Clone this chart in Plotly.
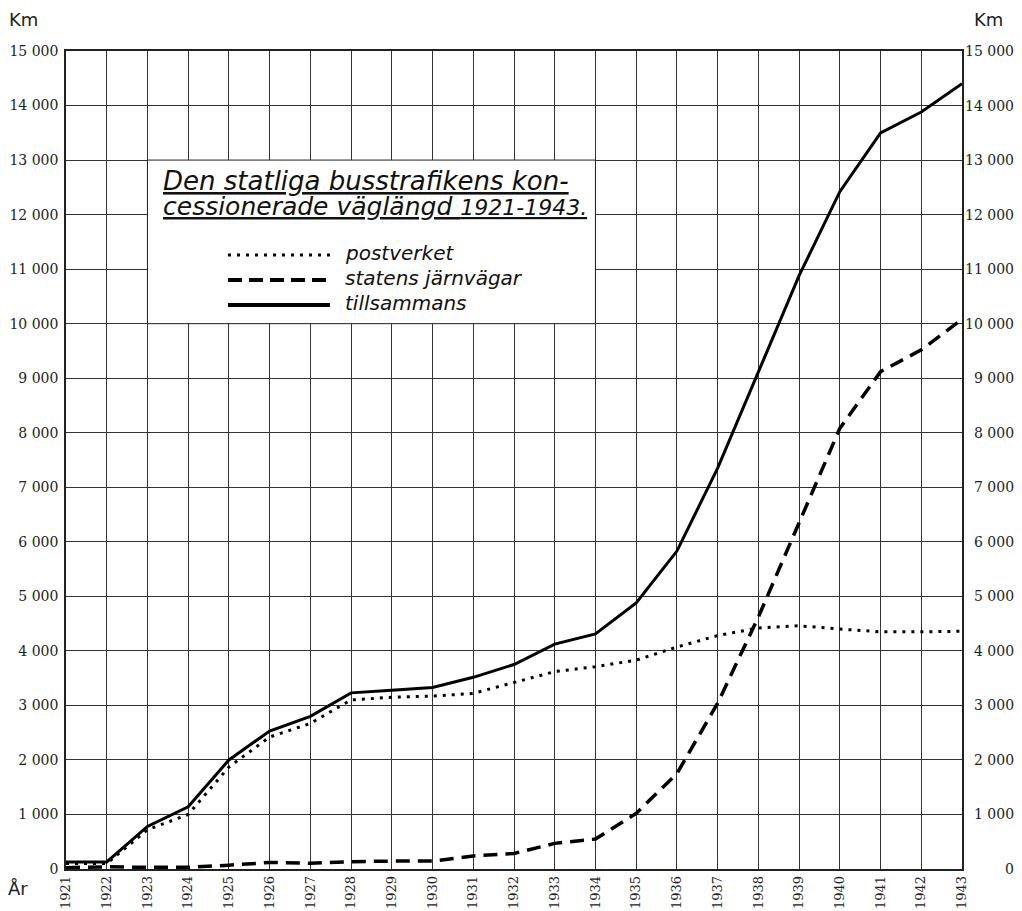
import plotly.graph_objects as go

years = list(range(1921, 1944))
postverket = [100, 100, 720, 1000, 1870, 2420, 2670, 3100, 3150, 3170, 3220, 3420, 3620, 3710, 3830, 4070, 4280, 4420, 4460, 4400, 4350, 4350, 4360]
statens_jarnvagar = [25, 40, 30, 30, 70, 120, 105, 135, 145, 145, 240, 285, 470, 550, 1020, 1750, 3040, 4620, 6350, 8080, 9120, 9520, 10080]
tillsammans = [130, 130, 780, 1140, 2000, 2530, 2800, 3230, 3280, 3330, 3515, 3750, 4125, 4310, 4880, 5830, 7350, 9110, 10880, 12420, 13500, 13880, 14400]

y_ticks = list(range(0, 15001, 1000))
y_labels = ["0" if v == 0 else f"{v // 1000} 000" for v in y_ticks]
x_labels = [str(y) for y in years]

series_names = ["postverket", "statens järnvägar", "tillsammans"]
title_line1 = "Den statliga busstrafikens kon-"
title_line2a = "cessionerade väglängd "
title_line2b = "1921-1943."

hand_font = "DejaVu Sans"
serif_font = "DejaVu Serif"

styles = [
    dict(color="black", width=3, dash="3px,6px"),
    dict(color="black", width=3.5, dash="14px,8px"),
    dict(color="black", width=3),
]
legend_styles = [
    dict(color="black", width=3, dash="3px,6px"),
    dict(color="black", width=4, dash="14px,7px"),
    dict(color="black", width=4),
]

fig = go.Figure()
for name, vals, st in zip(series_names, [postverket, statens_jarnvagar, tillsammans], styles):
    fig.add_trace(go.Scatter(x=years, y=vals, mode="lines", name=name, line=st, showlegend=False))

# white panel behind the title/legend (a grid cell block 1923-1934, 10 000-13 000)
fig.add_shape(type="rect", xref="x", yref="y", x0=1923, x1=1934, y0=10000, y1=13000,
              fillcolor="white", line=dict(color="#222", width=1), layer="above")

fig.add_annotation(xref="paper", yref="paper", x=0.1055, y=0.8411,
                   xanchor="left", yanchor="middle", showarrow=False,
                   text=f"<u><i>{title_line1}</i></u>",
                   font=dict(family=hand_font, size=26, color="#111"))
fig.add_annotation(xref="paper", yref="paper", x=0.1055, y=0.8105,
                   xanchor="left", yanchor="middle", showarrow=False,
                   text=f"<u><i>{title_line2a}<span style='font-size:22px'>{title_line2b}</span></i></u>",
                   font=dict(family=hand_font, size=25, color="#111"))

# hand-drawn style legend inside the panel
row_y = [0.7507, 0.7201, 0.6895]
for name, st, yy in zip(series_names, legend_styles, row_y):
    fig.add_shape(type="line", xref="paper", yref="paper", x0=0.1808, x1=0.2946, y0=yy, y1=yy,
                  line=st, layer="above")
    fig.add_annotation(xref="paper", yref="paper", x=0.309, y=yy + 0.002, xanchor="left", yanchor="middle",
                       showarrow=False, text=f"<i>{name}</i>",
                       font=dict(family=hand_font, size=20, color="#111"))

# right-hand tick labels (right aligned, like the printed chart)
for v, lab in zip(y_ticks, y_labels):
    fig.add_annotation(xref="paper", yref="y", x=1.0603, y=v, xanchor="right", yanchor="middle",
                       showarrow=False, text=lab, font=dict(family=serif_font, size=14, color="#222"))

fig.add_annotation(xref="paper", yref="paper", x=-0.066, y=1.038, xanchor="left", yanchor="middle",
                   showarrow=False, text="Km", font=dict(family="DejaVu Sans", size=18, color="#222"))
fig.add_annotation(xref="paper", yref="paper", x=1.011, y=1.038, xanchor="left", yanchor="middle",
                   showarrow=False, text="Km", font=dict(family="DejaVu Sans", size=18, color="#222"))
fig.add_annotation(xref="paper", yref="paper", x=-0.0675, y=-0.0244, xanchor="left", yanchor="middle",
                   showarrow=False, text="År", font=dict(family="DejaVu Sans", size=18, color="#222"))

fig.update_layout(
    width=1022, height=911,
    margin=dict(l=58, r=68, t=43, b=50, autoexpand=False),
    paper_bgcolor="white", plot_bgcolor="white",
    showlegend=False,
)
fig.update_xaxes(range=[1921, 1943], tickvals=years, ticktext=x_labels, tickangle=-90,
                 showgrid=True, gridcolor="#333", gridwidth=1, zeroline=False,
                 showline=True, linecolor="#222", linewidth=1.5, mirror=True, automargin=False,
                 ticks="", tickfont=dict(family=serif_font, size=13, color="#222"))
fig.update_yaxes(range=[0, 15000], tickvals=y_ticks, ticktext=y_labels,
                 showgrid=True, gridcolor="#333", gridwidth=1, zeroline=False,
                 showline=True, linecolor="#222", linewidth=1.5, mirror=True, automargin=False,
                 ticklabelstandoff=3,
                 ticks="", tickfont=dict(family=serif_font, size=14, color="#222"))

fig.write_html("out.html")
